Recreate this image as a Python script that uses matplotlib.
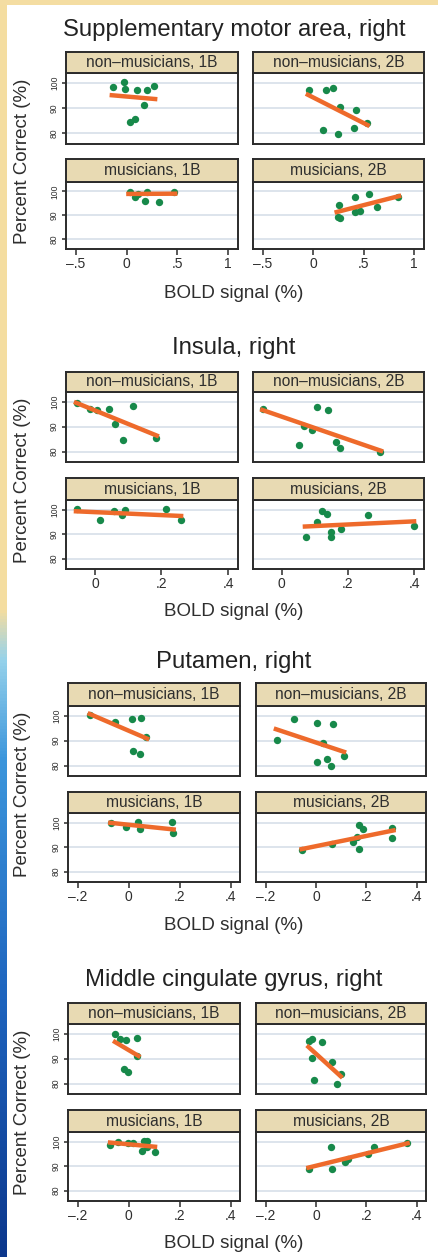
import numpy as np
import matplotlib.pyplot as plt
from matplotlib.patches import Rectangle

plt.rcParams["font.family"] = ["Liberation Sans", "DejaVu Sans"]

W, H = 439, 1257

# titles and panel labels
regions = [
    "Supplementary motor area, right",
    "Insula, right",
    "Putamen, right",
    "Middle cingulate gyrus, right",
]
panel_labels = [
    "non\u2013musicians, 1B",
    "non\u2013musicians, 2B",
    "musicians, 1B",
    "musicians, 2B",
]

x_ticks = [[-0.5, 0, 0.5, 1], [0, 0.2, 0.4], [-0.2, 0, 0.2, 0.4], [-0.2, 0, 0.2, 0.4]]
x_ticklabels = [
    ["\u2013.5", "0", ".5", "1"],
    ["0", ".2", ".4"],
    ["\u2013.2", "0", ".2", ".4"],
    ["\u2013.2", "0", ".2", ".4"],
]
y_ticks = [80, 90, 100]
y_ticklabels = ["80", "90", "100"]

# panel order: non-mus 1B, non-mus 2B, mus 1B, mus 2B
sma_x = [
    [-0.137, -0.025, -0.015, 0.10, 0.199, 0.27, 0.166, 0.034, 0.083],
    [-0.045, 0.126, 0.192, 0.265, 0.423, 0.532, 0.40, 0.248, 0.10],
    [0.034, 0.083, 0.116, 0.182, 0.205, 0.321, 0.463],
    [0.258, 0.265, 0.245, 0.413, 0.417, 0.466, 0.555, 0.637, 0.842],
]
sma_y = [
    [98.4, 100.3, 97.6, 97.1, 97.1, 98.7, 91.2, 84.4, 85.7],
    [97.3, 97.1, 98.0, 90.4, 89.1, 84.0, 82.3, 79.6, 81.3],
    [99.7, 97.6, 99.0, 96.0, 99.7, 95.5, 99.7],
    [94.4, 88.7, 89.3, 97.6, 91.3, 91.7, 98.9, 93.3, 97.7],
]
sma_fit_x = [[-0.147, 0.281], [-0.055, 0.539], [0.017, 0.479], [0.232, 0.852]]
sma_fit_y = [[95.1, 93.6], [95.3, 83.3], [98.9, 99.0], [91.3, 98.0]]

insula_x = [
    [-0.055, -0.016, 0.006, 0.043, 0.060, 0.084, 0.114, 0.183],
    [-0.057, 0.105, 0.14, 0.067, 0.09, 0.053, 0.165, 0.177, 0.298],
    [-0.055, 0.016, 0.057, 0.080, 0.090, 0.214, 0.259],
    [0.073, 0.105, 0.123, 0.138, 0.148, 0.148, 0.178, 0.262, 0.40],
]
insula_y = [
    [99.6, 97.1, 96.8, 97.0, 91.2, 84.5, 98.4, 85.5],
    [97.1, 98.0, 96.7, 90.1, 88.8, 82.5, 84.0, 81.6, 79.9],
    [100.4, 95.9, 99.4, 97.7, 99.7, 100.4, 95.6],
    [88.7, 94.9, 99.3, 98.1, 90.8, 88.7, 92.1, 97.9, 93.5],
]
insula_fit_x = [[-0.057, 0.186], [-0.059, 0.30], [-0.057, 0.259], [0.07, 0.40]]
insula_fit_y = [[99.6, 86.4], [96.7, 80.3], [99.3, 97.4], [93.1, 95.2]]

putamen_x = [
    [-0.150, -0.052, 0.013, 0.048, 0.068, 0.017, 0.046],
    [-0.156, -0.086, 0.005, 0.066, 0.026, 0.003, 0.045, 0.060, 0.109],
    [-0.068, -0.009, 0.035, 0.043, 0.170, 0.173],
    [-0.054, 0.065, 0.146, 0.172, 0.185, 0.172, 0.303, 0.303, 0.162],
]
putamen_y = [
    [100.1, 97.6, 98.8, 99.0, 91.4, 85.9, 84.6],
    [90.3, 98.6, 97.2, 96.8, 89.2, 81.5, 82.5, 80.0, 83.9],
    [99.9, 98.2, 100.3, 97.2, 100.3, 95.9],
    [88.8, 91.3, 92.0, 99.2, 97.5, 89.2, 97.8, 93.7, 94.2],
]
putamen_fit_x = [[-0.153, 0.072], [-0.159, 0.111], [-0.072, 0.176], [-0.057, 0.307]]
putamen_fit_y = [[100.7, 90.8], [94.6, 85.5], [99.9, 97.2], [89.2, 96.8]]

mcg_x = [
    [-0.054, -0.034, -0.010, 0.031, 0.031, -0.018, -0.004],
    [-0.026, -0.017, 0.025, -0.017, 0.065, 0.098, 0.082, -0.008],
    [-0.073, -0.041, -0.001, 0.016, 0.051, 0.058, 0.073, 0.071, 0.103],
    [-0.028, 0.060, 0.065, 0.115, 0.128, 0.208, 0.228, 0.360],
]
mcg_y = [
    [99.7, 98.0, 97.4, 98.4, 91.1, 85.8, 84.5],
    [97.1, 98.0, 96.7, 90.1, 88.8, 84.0, 80.0, 81.6],
    [98.6, 99.7, 99.6, 99.3, 96.3, 100.4, 100.3, 97.9, 95.9],
    [89.0, 97.9, 89.0, 91.7, 93.1, 94.9, 97.9, 99.6],
]
mcg_fit_x = [[-0.054, 0.038], [-0.030, 0.098], [-0.073, 0.103], [-0.030, 0.363]]
mcg_fit_y = [[96.7, 91.1], [94.7, 82.9], [99.6, 97.9], [89.4, 99.3]]

all_x = [sma_x, insula_x, putamen_x, mcg_x]
all_y = [sma_y, insula_y, putamen_y, mcg_y]
all_fit_x = [sma_fit_x, insula_fit_x, putamen_fit_x, mcg_fit_x]
all_fit_y = [sma_fit_y, insula_fit_y, putamen_fit_y, mcg_fit_y]

# layout in pixels (from top): title, strip tops, plot spans, columns, xlabel
layout = [
    dict(title=30, rows=[(52, 73, 144), (159, 182, 249)], cols=[(66, 238), (253, 424)], xlab=293),
    dict(title=348, rows=[(372, 392, 462), (478, 500, 569)], cols=[(66, 238), (253, 424)], xlab=612),
    dict(title=662, rows=[(683, 706, 776), (792, 813, 882)], cols=[(68, 240), (256, 426)], xlab=925),
    dict(title=980, rows=[(1003, 1024, 1094), (1110, 1132, 1201)], cols=[(68, 240), (256, 426)], xlab=1243),
]
xlims = [(-0.6, 1.1), (-0.087, 0.43), (-0.238, 0.436), (-0.238, 0.436)]
ylim = (75.8, 103.9)

TXT = "#2e2e2e"
FRAME = "#2b2b2b"
STRIP = "#e8dab3"
GRID = "#dde4ec"
DOT = "#17894a"
LINE = "#ee6a2b"


def box(x0, y0, x1, y1):
    return [x0 / W, 1 - y1 / H, (x1 - x0) / W, (y1 - y0) / H]


fig = plt.figure(figsize=(W / 100, H / 100), dpi=100)
fig.patch.set_facecolor("white")

# slide background peeking in at the left and top
bg = fig.add_axes([0, 0, 7 / W, 1])
stops = np.array([0, 610, 660, 760, 1000, 1257]) / H
cols = np.array([
    [244, 221, 160], [244, 221, 160], [150, 210, 235],
    [60, 150, 220], [30, 100, 190], [12, 55, 140],
]) / 255
t = np.linspace(0, 1, 400)
grad = np.stack([np.interp(t, stops, cols[:, k]) for k in range(3)], axis=1)
bg.imshow(grad[:, None, :], aspect="auto", extent=[0, 1, 0, 1], origin="upper")
bg.axis("off")
fig.patches.append(Rectangle((0, 1 - 5 / H), 1, 5 / H, transform=fig.transFigure,
                             facecolor="#f4dda2", edgecolor="none", zorder=0))

for g in range(4):
    lay = layout[g]
    fig.text(234 / W, 1 - lay["title"] / H, regions[g], ha="center", va="center",
             fontsize=17.2, color="#222222")
    for r in range(2):
        s_top, p_top, p_bot = lay["rows"][r]
        for c in range(2):
            k = r * 2 + c
            x0, x1 = lay["cols"][c]
            ax = fig.add_axes(box(x0, p_top, x1, p_bot))
            ax.set_xlim(xlims[g])
            ax.set_ylim(ylim)
            ax.set_yticks(y_ticks)
            ax.set_yticklabels(y_ticklabels)
            ax.set_xticks(x_ticks[g])
            ax.set_xticklabels(x_ticklabels[g])
            ax.yaxis.grid(True, color=GRID, lw=1.4)
            ax.set_axisbelow(True)
            for sp in ax.spines.values():
                sp.set_color(FRAME)
                sp.set_linewidth(1.4)
            ax.tick_params(axis="x", length=4.5, width=1.1, color=FRAME, pad=1,
                           labelsize=10, labelcolor=TXT,
                           bottom=(r == 1), labelbottom=(r == 1))
            ax.tick_params(axis="y", length=3, width=1.1, color=FRAME, pad=2,
                           labelsize=6.2, labelcolor=TXT,
                           left=(c == 0), labelleft=(c == 0))
            for lab in ax.get_yticklabels():
                lab.set_rotation(90)
                lab.set_va("center")

            ax.plot(all_x[g][k], all_y[g][k], "o", color=DOT, ms=5.3, mec="none", zorder=2)
            ax.plot(all_fit_x[g][k], all_fit_y[g][k], color=LINE, lw=3.2, zorder=3)

            sax = fig.add_axes(box(x0, s_top, x1, p_top))
            sax.set_facecolor(STRIP)
            sax.set_xticks([])
            sax.set_yticks([])
            for sp in sax.spines.values():
                sp.set_color(FRAME)
                sp.set_linewidth(1.4)
            sax.text(0.5, 0.5, panel_labels[k], transform=sax.transAxes,
                     ha="center", va="center", fontsize=11.2, color=TXT)

    top = lay["rows"][0][1]
    bot = lay["rows"][1][2]
    fig.text(23 / W, 1 - (top + bot) / 2 / H, "Percent Correct (%)", rotation=90,
             ha="center", va="center", fontsize=13.5, color=TXT)
    fig.text(234 / W, 1 - lay["xlab"] / H, "BOLD signal (%)", ha="center", va="center",
             fontsize=13.5, color=TXT)

fig.savefig("out.png", dpi=100)
